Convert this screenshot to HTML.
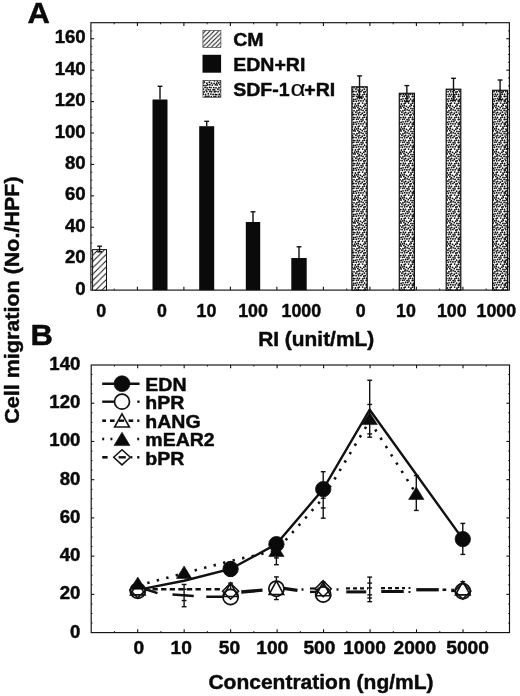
<!DOCTYPE html>
<html lang="en"><head><meta charset="utf-8"><title>Cell migration figure</title>
<style>html,body{margin:0;padding:0;background:#fff}svg{display:block}</style></head>
<body><svg width="520" height="696" viewBox="0 0 520 696"><defs>
<pattern id="stip" width="23.0" height="23.0" patternUnits="userSpaceOnUse"><rect width="23.0" height="23.0" fill="#fff"/><g fill="#111"><circle cx="22.79" cy="22.58" r="0.92"/><circle cx="22.79" cy="-0.42" r="0.92"/><circle cx="-0.21" cy="22.58" r="0.92"/><circle cx="-0.21" cy="-0.42" r="0.92"/><circle cx="1.33" cy="1.79" r="0.92"/><circle cx="24.33" cy="1.79" r="0.92"/><circle cx="0.04" cy="4.44" r="0.92"/><circle cx="23.04" cy="4.44" r="0.92"/><circle cx="0.62" cy="6.91" r="0.92"/><circle cx="23.62" cy="6.91" r="0.92"/><circle cx="22.44" cy="9.12" r="0.92"/><circle cx="-0.56" cy="9.12" r="0.92"/><circle cx="0.63" cy="11.01" r="0.92"/><circle cx="23.63" cy="11.01" r="0.92"/><circle cx="22.91" cy="14.19" r="0.92"/><circle cx="-0.09" cy="14.19" r="0.92"/><circle cx="0.70" cy="15.77" r="0.92"/><circle cx="23.70" cy="15.77" r="0.92"/><circle cx="0.15" cy="18.94" r="0.92"/><circle cx="23.15" cy="18.94" r="0.92"/><circle cx="1.24" cy="20.58" r="0.92"/><circle cx="24.24" cy="20.58" r="0.92"/><circle cx="2.87" cy="22.46" r="0.92"/><circle cx="2.87" cy="-0.54" r="0.92"/><circle cx="3.88" cy="2.05" r="0.92"/><circle cx="1.87" cy="4.14" r="0.92"/><circle cx="3.22" cy="7.28" r="0.92"/><circle cx="1.92" cy="9.30" r="0.92"/><circle cx="3.62" cy="11.35" r="0.92"/><circle cx="2.36" cy="13.28" r="0.92"/><circle cx="2.92" cy="15.75" r="0.92"/><circle cx="2.52" cy="18.31" r="0.92"/><circle cx="3.23" cy="20.80" r="0.92"/><circle cx="4.54" cy="22.76" r="0.92"/><circle cx="4.54" cy="-0.24" r="0.92"/><circle cx="6.10" cy="2.54" r="0.92"/><circle cx="4.29" cy="4.69" r="0.92"/><circle cx="5.78" cy="7.35" r="0.92"/><circle cx="4.88" cy="8.95" r="0.92"/><circle cx="6.33" cy="11.04" r="0.92"/><circle cx="4.50" cy="14.11" r="0.92"/><circle cx="5.33" cy="16.09" r="0.92"/><circle cx="4.05" cy="18.60" r="0.92"/><circle cx="6.07" cy="20.79" r="0.92"/><circle cx="7.35" cy="22.78" r="0.92"/><circle cx="7.35" cy="-0.22" r="0.92"/><circle cx="8.28" cy="2.41" r="0.92"/><circle cx="7.00" cy="4.55" r="0.92"/><circle cx="8.46" cy="7.43" r="0.92"/><circle cx="6.87" cy="9.40" r="0.92"/><circle cx="7.52" cy="11.74" r="0.92"/><circle cx="7.08" cy="14.39" r="0.92"/><circle cx="8.44" cy="15.84" r="0.92"/><circle cx="6.76" cy="18.60" r="0.92"/><circle cx="7.48" cy="20.65" r="0.92"/><circle cx="8.80" cy="22.54" r="0.92"/><circle cx="8.80" cy="-0.46" r="0.92"/><circle cx="9.82" cy="2.62" r="0.92"/><circle cx="8.76" cy="4.30" r="0.92"/><circle cx="10.22" cy="7.35" r="0.92"/><circle cx="8.70" cy="9.14" r="0.92"/><circle cx="10.41" cy="11.96" r="0.92"/><circle cx="9.58" cy="14.24" r="0.92"/><circle cx="10.08" cy="16.00" r="0.92"/><circle cx="9.03" cy="18.86" r="0.92"/><circle cx="10.90" cy="20.28" r="0.92"/><circle cx="11.11" cy="22.68" r="0.92"/><circle cx="11.11" cy="-0.32" r="0.92"/><circle cx="12.33" cy="2.28" r="0.92"/><circle cx="11.61" cy="4.32" r="0.92"/><circle cx="12.05" cy="6.80" r="0.92"/><circle cx="11.34" cy="9.28" r="0.92"/><circle cx="13.19" cy="11.73" r="0.92"/><circle cx="11.52" cy="13.94" r="0.92"/><circle cx="12.86" cy="15.56" r="0.92"/><circle cx="11.98" cy="18.74" r="0.92"/><circle cx="13.10" cy="21.06" r="0.92"/><circle cx="13.67" cy="22.88" r="0.92"/><circle cx="13.67" cy="-0.12" r="0.92"/><circle cx="14.47" cy="2.46" r="0.92"/><circle cx="13.27" cy="4.08" r="0.92"/><circle cx="14.60" cy="6.49" r="0.92"/><circle cx="13.61" cy="8.66" r="0.92"/><circle cx="14.35" cy="11.08" r="0.92"/><circle cx="13.32" cy="13.64" r="0.92"/><circle cx="14.38" cy="16.55" r="0.92"/><circle cx="13.94" cy="17.98" r="0.92"/><circle cx="14.65" cy="20.52" r="0.92"/><circle cx="15.94" cy="22.55" r="0.92"/><circle cx="15.94" cy="-0.45" r="0.92"/><circle cx="17.67" cy="2.89" r="0.92"/><circle cx="16.06" cy="4.58" r="0.92"/><circle cx="16.75" cy="6.42" r="0.92"/><circle cx="15.91" cy="8.92" r="0.92"/><circle cx="17.64" cy="11.09" r="0.92"/><circle cx="15.53" cy="14.34" r="0.92"/><circle cx="17.28" cy="15.68" r="0.92"/><circle cx="16.15" cy="17.83" r="0.92"/><circle cx="17.28" cy="21.27" r="0.92"/><circle cx="18.84" cy="0.24" r="0.92"/><circle cx="18.84" cy="23.24" r="0.92"/><circle cx="19.26" cy="2.14" r="0.92"/><circle cx="18.00" cy="4.93" r="0.92"/><circle cx="19.59" cy="7.23" r="0.92"/><circle cx="18.20" cy="8.87" r="0.92"/><circle cx="19.92" cy="12.08" r="0.92"/><circle cx="18.82" cy="14.17" r="0.92"/><circle cx="19.93" cy="16.39" r="0.92"/><circle cx="18.07" cy="18.42" r="0.92"/><circle cx="19.38" cy="20.13" r="0.92"/><circle cx="20.13" cy="22.74" r="0.92"/><circle cx="20.13" cy="-0.26" r="0.92"/><circle cx="21.56" cy="2.53" r="0.92"/><circle cx="-1.44" cy="2.53" r="0.92"/><circle cx="21.25" cy="4.54" r="0.92"/><circle cx="22.37" cy="7.49" r="0.92"/><circle cx="-0.63" cy="7.49" r="0.92"/><circle cx="21.25" cy="9.04" r="0.92"/><circle cx="21.51" cy="11.17" r="0.92"/><circle cx="-1.49" cy="11.17" r="0.92"/><circle cx="20.34" cy="13.45" r="0.92"/><circle cx="22.00" cy="16.58" r="0.92"/><circle cx="-1.00" cy="16.58" r="0.92"/><circle cx="21.11" cy="18.38" r="0.92"/><circle cx="22.03" cy="21.06" r="0.92"/><circle cx="-0.97" cy="21.06" r="0.92"/></g></pattern>
<pattern id="hatch" width="6.3" height="6.3" patternUnits="userSpaceOnUse" patternTransform="translate(1.5 0)"><rect width="6.3" height="6.3" fill="#fff"/><path d="M-1.575 1.575L1.575 -1.575M-1.575 7.875L7.875 -1.575M4.725 7.875L7.875 4.725" stroke="#111" stroke-width="1.0" fill="none"/></pattern>
<pattern id="hatch2" width="4.45" height="4.45" patternUnits="userSpaceOnUse" patternTransform="translate(0.5 0)"><rect width="4.45" height="4.45" fill="#fff"/><path d="M-1.1125 1.1125L1.1125 -1.1125M-1.1125 5.5625L5.5625 -1.1125M3.3375000000000004 5.5625L5.5625 3.3375000000000004" stroke="#111" stroke-width="0.95" fill="none"/></pattern>
</defs>
<g stroke="#111" fill="none" stroke-linecap="butt">
<rect x="90.9" y="22.7" width="418.5" height="267.40000000000003" stroke-width="1.15"/>
<line x1="137.40" y1="290.10" x2="137.40" y2="286.80" stroke-width="1.1" />
<line x1="137.40" y1="22.70" x2="137.40" y2="26.00" stroke-width="1.1" />
<line x1="183.90" y1="290.10" x2="183.90" y2="286.80" stroke-width="1.1" />
<line x1="183.90" y1="22.70" x2="183.90" y2="26.00" stroke-width="1.1" />
<line x1="230.40" y1="290.10" x2="230.40" y2="286.80" stroke-width="1.1" />
<line x1="230.40" y1="22.70" x2="230.40" y2="26.00" stroke-width="1.1" />
<line x1="276.90" y1="290.10" x2="276.90" y2="286.80" stroke-width="1.1" />
<line x1="276.90" y1="22.70" x2="276.90" y2="26.00" stroke-width="1.1" />
<line x1="323.40" y1="290.10" x2="323.40" y2="286.80" stroke-width="1.1" />
<line x1="323.40" y1="22.70" x2="323.40" y2="26.00" stroke-width="1.1" />
<line x1="369.90" y1="290.10" x2="369.90" y2="286.80" stroke-width="1.1" />
<line x1="369.90" y1="22.70" x2="369.90" y2="26.00" stroke-width="1.1" />
<line x1="416.40" y1="290.10" x2="416.40" y2="286.80" stroke-width="1.1" />
<line x1="416.40" y1="22.70" x2="416.40" y2="26.00" stroke-width="1.1" />
<line x1="462.90" y1="290.10" x2="462.90" y2="286.80" stroke-width="1.1" />
<line x1="462.90" y1="22.70" x2="462.90" y2="26.00" stroke-width="1.1" />
<line x1="114.15" y1="290.10" x2="114.15" y2="288.50" stroke-width="0.9" />
<line x1="114.15" y1="22.70" x2="114.15" y2="24.30" stroke-width="0.9" />
<line x1="160.65" y1="290.10" x2="160.65" y2="288.50" stroke-width="0.9" />
<line x1="160.65" y1="22.70" x2="160.65" y2="24.30" stroke-width="0.9" />
<line x1="207.15" y1="290.10" x2="207.15" y2="288.50" stroke-width="0.9" />
<line x1="207.15" y1="22.70" x2="207.15" y2="24.30" stroke-width="0.9" />
<line x1="253.65" y1="290.10" x2="253.65" y2="288.50" stroke-width="0.9" />
<line x1="253.65" y1="22.70" x2="253.65" y2="24.30" stroke-width="0.9" />
<line x1="300.15" y1="290.10" x2="300.15" y2="288.50" stroke-width="0.9" />
<line x1="300.15" y1="22.70" x2="300.15" y2="24.30" stroke-width="0.9" />
<line x1="346.65" y1="290.10" x2="346.65" y2="288.50" stroke-width="0.9" />
<line x1="346.65" y1="22.70" x2="346.65" y2="24.30" stroke-width="0.9" />
<line x1="393.15" y1="290.10" x2="393.15" y2="288.50" stroke-width="0.9" />
<line x1="393.15" y1="22.70" x2="393.15" y2="24.30" stroke-width="0.9" />
<line x1="439.65" y1="290.10" x2="439.65" y2="288.50" stroke-width="0.9" />
<line x1="439.65" y1="22.70" x2="439.65" y2="24.30" stroke-width="0.9" />
<line x1="486.15" y1="290.10" x2="486.15" y2="288.50" stroke-width="0.9" />
<line x1="486.15" y1="22.70" x2="486.15" y2="24.30" stroke-width="0.9" />
<line x1="90.90" y1="282.25" x2="92.30" y2="282.25" stroke-width="0.8" />
<line x1="509.40" y1="282.25" x2="508.00" y2="282.25" stroke-width="0.8" />
<line x1="90.90" y1="274.39" x2="92.30" y2="274.39" stroke-width="0.8" />
<line x1="509.40" y1="274.39" x2="508.00" y2="274.39" stroke-width="0.8" />
<line x1="90.90" y1="266.54" x2="92.30" y2="266.54" stroke-width="0.8" />
<line x1="509.40" y1="266.54" x2="508.00" y2="266.54" stroke-width="0.8" />
<line x1="90.90" y1="258.68" x2="94.00" y2="258.68" stroke-width="1.1" />
<line x1="509.40" y1="258.68" x2="506.30" y2="258.68" stroke-width="1.1" />
<line x1="90.90" y1="250.83" x2="92.30" y2="250.83" stroke-width="0.8" />
<line x1="509.40" y1="250.83" x2="508.00" y2="250.83" stroke-width="0.8" />
<line x1="90.90" y1="242.97" x2="92.30" y2="242.97" stroke-width="0.8" />
<line x1="509.40" y1="242.97" x2="508.00" y2="242.97" stroke-width="0.8" />
<line x1="90.90" y1="235.12" x2="92.30" y2="235.12" stroke-width="0.8" />
<line x1="509.40" y1="235.12" x2="508.00" y2="235.12" stroke-width="0.8" />
<line x1="90.90" y1="227.26" x2="94.00" y2="227.26" stroke-width="1.1" />
<line x1="509.40" y1="227.26" x2="506.30" y2="227.26" stroke-width="1.1" />
<line x1="90.90" y1="219.41" x2="92.30" y2="219.41" stroke-width="0.8" />
<line x1="509.40" y1="219.41" x2="508.00" y2="219.41" stroke-width="0.8" />
<line x1="90.90" y1="211.55" x2="92.30" y2="211.55" stroke-width="0.8" />
<line x1="509.40" y1="211.55" x2="508.00" y2="211.55" stroke-width="0.8" />
<line x1="90.90" y1="203.70" x2="92.30" y2="203.70" stroke-width="0.8" />
<line x1="509.40" y1="203.70" x2="508.00" y2="203.70" stroke-width="0.8" />
<line x1="90.90" y1="195.84" x2="94.00" y2="195.84" stroke-width="1.1" />
<line x1="509.40" y1="195.84" x2="506.30" y2="195.84" stroke-width="1.1" />
<line x1="90.90" y1="187.99" x2="92.30" y2="187.99" stroke-width="0.8" />
<line x1="509.40" y1="187.99" x2="508.00" y2="187.99" stroke-width="0.8" />
<line x1="90.90" y1="180.13" x2="92.30" y2="180.13" stroke-width="0.8" />
<line x1="509.40" y1="180.13" x2="508.00" y2="180.13" stroke-width="0.8" />
<line x1="90.90" y1="172.28" x2="92.30" y2="172.28" stroke-width="0.8" />
<line x1="509.40" y1="172.28" x2="508.00" y2="172.28" stroke-width="0.8" />
<line x1="90.90" y1="164.43" x2="94.00" y2="164.43" stroke-width="1.1" />
<line x1="509.40" y1="164.43" x2="506.30" y2="164.43" stroke-width="1.1" />
<line x1="90.90" y1="156.57" x2="92.30" y2="156.57" stroke-width="0.8" />
<line x1="509.40" y1="156.57" x2="508.00" y2="156.57" stroke-width="0.8" />
<line x1="90.90" y1="148.72" x2="92.30" y2="148.72" stroke-width="0.8" />
<line x1="509.40" y1="148.72" x2="508.00" y2="148.72" stroke-width="0.8" />
<line x1="90.90" y1="140.86" x2="92.30" y2="140.86" stroke-width="0.8" />
<line x1="509.40" y1="140.86" x2="508.00" y2="140.86" stroke-width="0.8" />
<line x1="90.90" y1="133.01" x2="94.00" y2="133.01" stroke-width="1.1" />
<line x1="509.40" y1="133.01" x2="506.30" y2="133.01" stroke-width="1.1" />
<line x1="90.90" y1="125.15" x2="92.30" y2="125.15" stroke-width="0.8" />
<line x1="509.40" y1="125.15" x2="508.00" y2="125.15" stroke-width="0.8" />
<line x1="90.90" y1="117.30" x2="92.30" y2="117.30" stroke-width="0.8" />
<line x1="509.40" y1="117.30" x2="508.00" y2="117.30" stroke-width="0.8" />
<line x1="90.90" y1="109.44" x2="92.30" y2="109.44" stroke-width="0.8" />
<line x1="509.40" y1="109.44" x2="508.00" y2="109.44" stroke-width="0.8" />
<line x1="90.90" y1="101.59" x2="94.00" y2="101.59" stroke-width="1.1" />
<line x1="509.40" y1="101.59" x2="506.30" y2="101.59" stroke-width="1.1" />
<line x1="90.90" y1="93.73" x2="92.30" y2="93.73" stroke-width="0.8" />
<line x1="509.40" y1="93.73" x2="508.00" y2="93.73" stroke-width="0.8" />
<line x1="90.90" y1="85.88" x2="92.30" y2="85.88" stroke-width="0.8" />
<line x1="509.40" y1="85.88" x2="508.00" y2="85.88" stroke-width="0.8" />
<line x1="90.90" y1="78.02" x2="92.30" y2="78.02" stroke-width="0.8" />
<line x1="509.40" y1="78.02" x2="508.00" y2="78.02" stroke-width="0.8" />
<line x1="90.90" y1="70.17" x2="94.00" y2="70.17" stroke-width="1.1" />
<line x1="509.40" y1="70.17" x2="506.30" y2="70.17" stroke-width="1.1" />
<line x1="90.90" y1="62.31" x2="92.30" y2="62.31" stroke-width="0.8" />
<line x1="509.40" y1="62.31" x2="508.00" y2="62.31" stroke-width="0.8" />
<line x1="90.90" y1="54.46" x2="92.30" y2="54.46" stroke-width="0.8" />
<line x1="509.40" y1="54.46" x2="508.00" y2="54.46" stroke-width="0.8" />
<line x1="90.90" y1="46.60" x2="92.30" y2="46.60" stroke-width="0.8" />
<line x1="509.40" y1="46.60" x2="508.00" y2="46.60" stroke-width="0.8" />
<line x1="90.90" y1="38.75" x2="94.00" y2="38.75" stroke-width="1.1" />
<line x1="509.40" y1="38.75" x2="506.30" y2="38.75" stroke-width="1.1" />
<line x1="90.90" y1="30.90" x2="92.30" y2="30.90" stroke-width="0.8" />
<line x1="509.40" y1="30.90" x2="508.00" y2="30.90" stroke-width="0.8" />
<rect x="92.6" y="249.6" width="13.9" height="40.50000000000003" fill="url(#hatch)" stroke-width="1.0"/>
<line x1="99.60" y1="246.20" x2="99.60" y2="251.80" stroke-width="1.4" />
<line x1="97.20" y1="246.20" x2="102.00" y2="246.20" stroke-width="1.4" />
<line x1="97.20" y1="251.80" x2="102.00" y2="251.80" stroke-width="1.4" />
<rect x="152.5" y="99.5" width="15.0" height="190.60000000000002" fill="#0a0a0a" stroke="none"/>
<line x1="160.00" y1="86.30" x2="160.00" y2="99.50" stroke-width="1.4" />
<line x1="157.60" y1="86.30" x2="162.40" y2="86.30" stroke-width="1.4" />
<rect x="199.2" y="126.2" width="15.0" height="163.90000000000003" fill="#0a0a0a" stroke="none"/>
<line x1="206.70" y1="121.30" x2="206.70" y2="126.20" stroke-width="1.4" />
<line x1="204.30" y1="121.30" x2="209.10" y2="121.30" stroke-width="1.4" />
<rect x="245.8" y="222" width="14.399999999999977" height="68.10000000000002" fill="#0a0a0a" stroke="none"/>
<line x1="253.00" y1="211.80" x2="253.00" y2="222.00" stroke-width="1.4" />
<line x1="250.60" y1="211.80" x2="255.40" y2="211.80" stroke-width="1.4" />
<rect x="291.3" y="258" width="15.399999999999977" height="32.10000000000002" fill="#0a0a0a" stroke="none"/>
<line x1="299.00" y1="246.80" x2="299.00" y2="258.00" stroke-width="1.4" />
<line x1="296.60" y1="246.80" x2="301.40" y2="246.80" stroke-width="1.4" />
<rect x="351.9" y="86.8" width="15.300000000000011" height="203.3" fill="url(#stip)" stroke-width="1.2"/>
<line x1="359.55" y1="75.90" x2="359.55" y2="97.40" stroke-width="1.4" />
<line x1="357.15" y1="75.90" x2="361.95" y2="75.90" stroke-width="1.4" />
<line x1="357.15" y1="97.40" x2="361.95" y2="97.40" stroke-width="1.4" />
<rect x="399.3" y="93.3" width="15.099999999999966" height="196.8" fill="url(#stip)" stroke-width="1.2"/>
<line x1="406.85" y1="85.60" x2="406.85" y2="101.60" stroke-width="1.4" />
<line x1="404.45" y1="85.60" x2="409.25" y2="85.60" stroke-width="1.4" />
<line x1="404.45" y1="101.60" x2="409.25" y2="101.60" stroke-width="1.4" />
<rect x="446.2" y="89.2" width="14.600000000000023" height="200.90000000000003" fill="url(#stip)" stroke-width="1.2"/>
<line x1="453.50" y1="78.30" x2="453.50" y2="100.20" stroke-width="1.4" />
<line x1="451.10" y1="78.30" x2="455.90" y2="78.30" stroke-width="1.4" />
<line x1="451.10" y1="100.20" x2="455.90" y2="100.20" stroke-width="1.4" />
<rect x="492.6" y="90.3" width="15.0" height="199.8" fill="url(#stip)" stroke-width="1.2"/>
<line x1="500.10" y1="80.00" x2="500.10" y2="99.50" stroke-width="1.4" />
<line x1="497.70" y1="80.00" x2="502.50" y2="80.00" stroke-width="1.4" />
<line x1="497.70" y1="99.50" x2="502.50" y2="99.50" stroke-width="1.4" />
<rect x="202.9" y="30.4" width="18" height="17" fill="url(#hatch2)" stroke-width="0.7" stroke="#444"/>
<rect x="202.5" y="54.8" width="18.6" height="17.9" fill="#0a0a0a" stroke="none"/>
<rect x="202.9" y="80.4" width="18" height="17" fill="url(#stip)" stroke-width="0.7" stroke="#444"/>
<rect x="91.2" y="365.0" width="418.3" height="267.6" stroke-width="1.15"/>
<line x1="137.68" y1="632.60" x2="137.68" y2="629.30" stroke-width="1.1" />
<line x1="137.68" y1="365.00" x2="137.68" y2="368.30" stroke-width="1.1" />
<line x1="184.16" y1="632.60" x2="184.16" y2="629.30" stroke-width="1.1" />
<line x1="184.16" y1="365.00" x2="184.16" y2="368.30" stroke-width="1.1" />
<line x1="230.63" y1="632.60" x2="230.63" y2="629.30" stroke-width="1.1" />
<line x1="230.63" y1="365.00" x2="230.63" y2="368.30" stroke-width="1.1" />
<line x1="277.11" y1="632.60" x2="277.11" y2="629.30" stroke-width="1.1" />
<line x1="277.11" y1="365.00" x2="277.11" y2="368.30" stroke-width="1.1" />
<line x1="323.59" y1="632.60" x2="323.59" y2="629.30" stroke-width="1.1" />
<line x1="323.59" y1="365.00" x2="323.59" y2="368.30" stroke-width="1.1" />
<line x1="370.07" y1="632.60" x2="370.07" y2="629.30" stroke-width="1.1" />
<line x1="370.07" y1="365.00" x2="370.07" y2="368.30" stroke-width="1.1" />
<line x1="416.54" y1="632.60" x2="416.54" y2="629.30" stroke-width="1.1" />
<line x1="416.54" y1="365.00" x2="416.54" y2="368.30" stroke-width="1.1" />
<line x1="463.02" y1="632.60" x2="463.02" y2="629.30" stroke-width="1.1" />
<line x1="463.02" y1="365.00" x2="463.02" y2="368.30" stroke-width="1.1" />
<line x1="114.44" y1="632.60" x2="114.44" y2="631.00" stroke-width="0.9" />
<line x1="114.44" y1="365.00" x2="114.44" y2="366.60" stroke-width="0.9" />
<line x1="160.92" y1="632.60" x2="160.92" y2="631.00" stroke-width="0.9" />
<line x1="160.92" y1="365.00" x2="160.92" y2="366.60" stroke-width="0.9" />
<line x1="207.39" y1="632.60" x2="207.39" y2="631.00" stroke-width="0.9" />
<line x1="207.39" y1="365.00" x2="207.39" y2="366.60" stroke-width="0.9" />
<line x1="253.87" y1="632.60" x2="253.87" y2="631.00" stroke-width="0.9" />
<line x1="253.87" y1="365.00" x2="253.87" y2="366.60" stroke-width="0.9" />
<line x1="300.35" y1="632.60" x2="300.35" y2="631.00" stroke-width="0.9" />
<line x1="300.35" y1="365.00" x2="300.35" y2="366.60" stroke-width="0.9" />
<line x1="346.83" y1="632.60" x2="346.83" y2="631.00" stroke-width="0.9" />
<line x1="346.83" y1="365.00" x2="346.83" y2="366.60" stroke-width="0.9" />
<line x1="393.31" y1="632.60" x2="393.31" y2="631.00" stroke-width="0.9" />
<line x1="393.31" y1="365.00" x2="393.31" y2="366.60" stroke-width="0.9" />
<line x1="439.78" y1="632.60" x2="439.78" y2="631.00" stroke-width="0.9" />
<line x1="439.78" y1="365.00" x2="439.78" y2="366.60" stroke-width="0.9" />
<line x1="486.26" y1="632.60" x2="486.26" y2="631.00" stroke-width="0.9" />
<line x1="486.26" y1="365.00" x2="486.26" y2="366.60" stroke-width="0.9" />
<line x1="91.20" y1="623.04" x2="92.60" y2="623.04" stroke-width="0.8" />
<line x1="509.50" y1="623.04" x2="508.10" y2="623.04" stroke-width="0.8" />
<line x1="91.20" y1="613.49" x2="92.60" y2="613.49" stroke-width="0.8" />
<line x1="509.50" y1="613.49" x2="508.10" y2="613.49" stroke-width="0.8" />
<line x1="91.20" y1="603.93" x2="92.60" y2="603.93" stroke-width="0.8" />
<line x1="509.50" y1="603.93" x2="508.10" y2="603.93" stroke-width="0.8" />
<line x1="91.20" y1="594.37" x2="94.30" y2="594.37" stroke-width="1.1" />
<line x1="509.50" y1="594.37" x2="506.40" y2="594.37" stroke-width="1.1" />
<line x1="91.20" y1="584.81" x2="92.60" y2="584.81" stroke-width="0.8" />
<line x1="509.50" y1="584.81" x2="508.10" y2="584.81" stroke-width="0.8" />
<line x1="91.20" y1="575.26" x2="92.60" y2="575.26" stroke-width="0.8" />
<line x1="509.50" y1="575.26" x2="508.10" y2="575.26" stroke-width="0.8" />
<line x1="91.20" y1="565.70" x2="92.60" y2="565.70" stroke-width="0.8" />
<line x1="509.50" y1="565.70" x2="508.10" y2="565.70" stroke-width="0.8" />
<line x1="91.20" y1="556.14" x2="94.30" y2="556.14" stroke-width="1.1" />
<line x1="509.50" y1="556.14" x2="506.40" y2="556.14" stroke-width="1.1" />
<line x1="91.20" y1="546.59" x2="92.60" y2="546.59" stroke-width="0.8" />
<line x1="509.50" y1="546.59" x2="508.10" y2="546.59" stroke-width="0.8" />
<line x1="91.20" y1="537.03" x2="92.60" y2="537.03" stroke-width="0.8" />
<line x1="509.50" y1="537.03" x2="508.10" y2="537.03" stroke-width="0.8" />
<line x1="91.20" y1="527.47" x2="92.60" y2="527.47" stroke-width="0.8" />
<line x1="509.50" y1="527.47" x2="508.10" y2="527.47" stroke-width="0.8" />
<line x1="91.20" y1="517.91" x2="94.30" y2="517.91" stroke-width="1.1" />
<line x1="509.50" y1="517.91" x2="506.40" y2="517.91" stroke-width="1.1" />
<line x1="91.20" y1="508.36" x2="92.60" y2="508.36" stroke-width="0.8" />
<line x1="509.50" y1="508.36" x2="508.10" y2="508.36" stroke-width="0.8" />
<line x1="91.20" y1="498.80" x2="92.60" y2="498.80" stroke-width="0.8" />
<line x1="509.50" y1="498.80" x2="508.10" y2="498.80" stroke-width="0.8" />
<line x1="91.20" y1="489.24" x2="92.60" y2="489.24" stroke-width="0.8" />
<line x1="509.50" y1="489.24" x2="508.10" y2="489.24" stroke-width="0.8" />
<line x1="91.20" y1="479.69" x2="94.30" y2="479.69" stroke-width="1.1" />
<line x1="509.50" y1="479.69" x2="506.40" y2="479.69" stroke-width="1.1" />
<line x1="91.20" y1="470.13" x2="92.60" y2="470.13" stroke-width="0.8" />
<line x1="509.50" y1="470.13" x2="508.10" y2="470.13" stroke-width="0.8" />
<line x1="91.20" y1="460.57" x2="92.60" y2="460.57" stroke-width="0.8" />
<line x1="509.50" y1="460.57" x2="508.10" y2="460.57" stroke-width="0.8" />
<line x1="91.20" y1="451.01" x2="92.60" y2="451.01" stroke-width="0.8" />
<line x1="509.50" y1="451.01" x2="508.10" y2="451.01" stroke-width="0.8" />
<line x1="91.20" y1="441.46" x2="94.30" y2="441.46" stroke-width="1.1" />
<line x1="509.50" y1="441.46" x2="506.40" y2="441.46" stroke-width="1.1" />
<line x1="91.20" y1="431.90" x2="92.60" y2="431.90" stroke-width="0.8" />
<line x1="509.50" y1="431.90" x2="508.10" y2="431.90" stroke-width="0.8" />
<line x1="91.20" y1="422.34" x2="92.60" y2="422.34" stroke-width="0.8" />
<line x1="509.50" y1="422.34" x2="508.10" y2="422.34" stroke-width="0.8" />
<line x1="91.20" y1="412.79" x2="92.60" y2="412.79" stroke-width="0.8" />
<line x1="509.50" y1="412.79" x2="508.10" y2="412.79" stroke-width="0.8" />
<line x1="91.20" y1="403.23" x2="94.30" y2="403.23" stroke-width="1.1" />
<line x1="509.50" y1="403.23" x2="506.40" y2="403.23" stroke-width="1.1" />
<line x1="91.20" y1="393.67" x2="92.60" y2="393.67" stroke-width="0.8" />
<line x1="509.50" y1="393.67" x2="508.10" y2="393.67" stroke-width="0.8" />
<line x1="91.20" y1="384.11" x2="92.60" y2="384.11" stroke-width="0.8" />
<line x1="509.50" y1="384.11" x2="508.10" y2="384.11" stroke-width="0.8" />
<line x1="91.20" y1="374.56" x2="92.60" y2="374.56" stroke-width="0.8" />
<line x1="509.50" y1="374.56" x2="508.10" y2="374.56" stroke-width="0.8" />
<line x1="184.10" y1="584.45" x2="184.10" y2="606.73" stroke-width="1.4" />
<line x1="181.70" y1="584.45" x2="186.50" y2="584.45" stroke-width="1.4" />
<line x1="181.70" y1="606.73" x2="186.50" y2="606.73" stroke-width="1.4" />
<line x1="181.70" y1="589.29" x2="186.50" y2="589.29" stroke-width="1.4" />
<line x1="181.70" y1="595.11" x2="186.50" y2="595.11" stroke-width="1.4" />
<line x1="181.70" y1="600.53" x2="186.50" y2="600.53" stroke-width="1.4" />
<line x1="230.60" y1="561.78" x2="230.60" y2="576.31" stroke-width="1.4" />
<line x1="228.20" y1="561.78" x2="233.00" y2="561.78" stroke-width="1.4" />
<line x1="228.20" y1="576.31" x2="233.00" y2="576.31" stroke-width="1.4" />
<line x1="276.40" y1="539.50" x2="276.40" y2="564.69" stroke-width="1.4" />
<line x1="274.00" y1="539.50" x2="278.80" y2="539.50" stroke-width="1.4" />
<line x1="274.00" y1="564.69" x2="278.80" y2="564.69" stroke-width="1.4" />
<line x1="274.00" y1="557.91" x2="278.80" y2="557.91" stroke-width="1.4" />
<line x1="323.20" y1="471.69" x2="323.20" y2="518.19" stroke-width="1.4" />
<line x1="320.80" y1="471.69" x2="325.60" y2="471.69" stroke-width="1.4" />
<line x1="320.80" y1="518.19" x2="325.60" y2="518.19" stroke-width="1.4" />
<line x1="320.80" y1="507.92" x2="325.60" y2="507.92" stroke-width="1.4" />
<line x1="320.80" y1="498.23" x2="325.60" y2="498.23" stroke-width="1.4" />
<line x1="369.70" y1="380.24" x2="369.70" y2="437.20" stroke-width="1.4" />
<line x1="367.30" y1="380.24" x2="372.10" y2="380.24" stroke-width="1.4" />
<line x1="367.30" y1="437.20" x2="372.10" y2="437.20" stroke-width="1.4" />
<line x1="367.30" y1="404.46" x2="372.10" y2="404.46" stroke-width="1.4" />
<line x1="367.30" y1="433.91" x2="372.10" y2="433.91" stroke-width="1.4" />
<line x1="416.30" y1="475.56" x2="416.30" y2="510.44" stroke-width="1.4" />
<line x1="413.90" y1="475.56" x2="418.70" y2="475.56" stroke-width="1.4" />
<line x1="413.90" y1="510.44" x2="418.70" y2="510.44" stroke-width="1.4" />
<line x1="462.80" y1="523.42" x2="462.80" y2="554.42" stroke-width="1.4" />
<line x1="460.40" y1="523.42" x2="465.20" y2="523.42" stroke-width="1.4" />
<line x1="460.40" y1="554.42" x2="465.20" y2="554.42" stroke-width="1.4" />
<line x1="230.60" y1="583.09" x2="230.60" y2="604.41" stroke-width="1.4" />
<line x1="228.20" y1="583.09" x2="233.00" y2="583.09" stroke-width="1.4" />
<line x1="228.20" y1="604.41" x2="233.00" y2="604.41" stroke-width="1.4" />
<line x1="276.40" y1="576.89" x2="276.40" y2="599.56" stroke-width="1.4" />
<line x1="274.00" y1="576.89" x2="278.80" y2="576.89" stroke-width="1.4" />
<line x1="274.00" y1="599.56" x2="278.80" y2="599.56" stroke-width="1.4" />
<line x1="274.00" y1="582.12" x2="278.80" y2="582.12" stroke-width="1.4" />
<line x1="274.00" y1="595.69" x2="278.80" y2="595.69" stroke-width="1.4" />
<line x1="323.20" y1="582.12" x2="323.20" y2="601.50" stroke-width="1.4" />
<line x1="320.80" y1="582.12" x2="325.60" y2="582.12" stroke-width="1.4" />
<line x1="320.80" y1="601.50" x2="325.60" y2="601.50" stroke-width="1.4" />
<line x1="320.80" y1="586.00" x2="325.60" y2="586.00" stroke-width="1.4" />
<line x1="320.80" y1="597.62" x2="325.60" y2="597.62" stroke-width="1.4" />
<line x1="369.70" y1="577.09" x2="369.70" y2="601.69" stroke-width="1.4" />
<line x1="367.30" y1="577.09" x2="372.10" y2="577.09" stroke-width="1.4" />
<line x1="367.30" y1="601.69" x2="372.10" y2="601.69" stroke-width="1.4" />
<line x1="367.30" y1="583.09" x2="372.10" y2="583.09" stroke-width="1.4" />
<line x1="367.30" y1="587.94" x2="372.10" y2="587.94" stroke-width="1.4" />
<line x1="367.30" y1="594.91" x2="372.10" y2="594.91" stroke-width="1.4" />
<line x1="367.30" y1="598.01" x2="372.10" y2="598.01" stroke-width="1.4" />
<line x1="462.80" y1="581.74" x2="462.80" y2="589.88" stroke-width="1.4" />
<line x1="460.40" y1="581.74" x2="465.20" y2="581.74" stroke-width="1.4" />
<line x1="460.40" y1="589.88" x2="465.20" y2="589.88" stroke-width="1.4" />
<polyline points="137.80,585.61 184.10,573.21 230.60,561.01 276.40,550.54 323.20,498.04 369.70,420.92 416.30,493.97" stroke-width="2.6" stroke-dasharray="2.4 7.4"/>
<line x1="152.50" y1="589.25" x2="202.50" y2="589.25" stroke-width="2.4" stroke-dasharray="5.3 3.3"/>
<line x1="206.00" y1="589.25" x2="222.50" y2="589.25" stroke-width="2.4" stroke-dasharray="5.3 3.3"/>
<line x1="310.00" y1="588.50" x2="316.00" y2="588.50" stroke-width="2.2" />
<line x1="346.00" y1="588.30" x2="368.00" y2="588.30" stroke-width="2.2" stroke-dasharray="4 3"/>
<line x1="381.00" y1="588.10" x2="405.00" y2="588.10" stroke-width="2.2" stroke-dasharray="4 3"/>
<line x1="145.00" y1="589.00" x2="157.50" y2="593.20" stroke-width="2.4" />
<line x1="172.50" y1="594.60" x2="193.75" y2="596.00" stroke-width="2.5" />
<line x1="206.25" y1="596.75" x2="223.75" y2="596.75" stroke-width="2.5" />
<line x1="241.25" y1="592.00" x2="262.50" y2="590.20" stroke-width="3.3" />
<line x1="283.75" y1="588.40" x2="297.50" y2="590.40" stroke-width="3.3" />
<line x1="301.50" y1="589.50" x2="303.50" y2="589.50" stroke-width="2.4" />
<line x1="310.00" y1="591.90" x2="316.00" y2="591.90" stroke-width="2.4" />
<line x1="336.50" y1="589.50" x2="338.50" y2="589.50" stroke-width="2.4" />
<line x1="346.25" y1="591.90" x2="366.25" y2="591.90" stroke-width="3.0" />
<line x1="381.25" y1="591.50" x2="403.75" y2="591.50" stroke-width="3.0" />
<line x1="408.50" y1="588.00" x2="410.50" y2="588.00" stroke-width="2.0" />
<line x1="408.50" y1="592.00" x2="410.50" y2="592.00" stroke-width="2.0" />
<line x1="416.25" y1="589.75" x2="438.75" y2="589.75" stroke-width="3.3" />
<line x1="442.50" y1="589.75" x2="446.25" y2="589.75" stroke-width="2.6" />
<line x1="451.25" y1="590.40" x2="454.50" y2="590.40" stroke-width="3.4" />
<polyline points="137.80,589.88 184.10,580.77 230.60,568.95 276.40,544.15 323.20,489.12 369.70,409.69 462.80,539.11" stroke-width="2.4" stroke-linejoin="miter"/>
<circle cx="137.80" cy="590.84" r="7.6" fill="#fff" stroke-width="1.7"/>
<circle cx="230.60" cy="597.04" r="7.6" fill="#fff" stroke-width="1.7"/>
<circle cx="276.40" cy="588.71" r="7.6" fill="#fff" stroke-width="1.7"/>
<circle cx="323.20" cy="594.52" r="7.6" fill="#fff" stroke-width="1.7"/>
<circle cx="462.80" cy="591.23" r="7.6" fill="#fff" stroke-width="1.7"/>
<path d="M137.80 581.32L145.10 594.92L130.50 594.92Z" fill="none" stroke-width="1.6" stroke-linejoin="miter"/>
<path d="M230.60 582.87L237.90 596.47L223.30 596.47Z" fill="none" stroke-width="1.6" stroke-linejoin="miter"/>
<path d="M276.40 580.94L283.70 594.54L269.10 594.54Z" fill="none" stroke-width="1.6" stroke-linejoin="miter"/>
<path d="M323.20 582.10L330.50 595.70L315.90 595.70Z" fill="none" stroke-width="1.6" stroke-linejoin="miter"/>
<path d="M462.80 581.32L470.10 594.92L455.50 594.92Z" fill="none" stroke-width="1.6" stroke-linejoin="miter"/>
<path d="M137.80 581.88L145.80 589.88L137.80 597.88L129.80 589.88Z" fill="none" stroke-width="1.6"/>
<path d="M230.60 583.23L238.60 591.23L230.60 599.23L222.60 591.23Z" fill="none" stroke-width="1.6"/>
<path d="M323.20 580.71L331.20 588.71L323.20 596.71L315.20 588.71Z" fill="none" stroke-width="1.6"/>
<path d="M462.80 583.04L470.80 591.04L462.80 599.04L454.80 591.04Z" fill="none" stroke-width="1.6"/>
<path d="M137.80 577.10L145.50 589.30L130.10 589.30Z" fill="#0a0a0a" stroke-width="0.6" stroke-linejoin="miter"/>
<path d="M184.10 566.00L191.80 578.50L176.40 578.50Z" fill="#0a0a0a" stroke-width="0.6" stroke-linejoin="miter"/>
<path d="M276.40 544.00L284.10 556.50L268.70 556.50Z" fill="#0a0a0a" stroke-width="0.6" stroke-linejoin="miter"/>
<path d="M369.70 412.40L377.40 424.60L362.00 424.60Z" fill="#0a0a0a" stroke-width="0.6" stroke-linejoin="miter"/>
<path d="M416.30 486.90L424.00 499.50L408.60 499.50Z" fill="#0a0a0a" stroke-width="0.6" stroke-linejoin="miter"/>
<circle cx="230.60" cy="568.95" r="7.7" fill="#0a0a0a" stroke-width="0.8"/>
<circle cx="276.40" cy="544.15" r="7.7" fill="#0a0a0a" stroke-width="0.8"/>
<circle cx="323.20" cy="489.12" r="7.7" fill="#0a0a0a" stroke-width="0.8"/>
<circle cx="462.80" cy="539.11" r="7.7" fill="#0a0a0a" stroke-width="0.8"/>
<line x1="102.20" y1="383.70" x2="139.60" y2="383.70" stroke-width="2.6" />
<circle cx="122.00" cy="383.70" r="8.0" fill="#0a0a0a" stroke-width="0.6"/>
<line x1="102.20" y1="401.70" x2="122.00" y2="401.70" stroke-width="2.4" />
<line x1="137.30" y1="401.70" x2="139.60" y2="401.70" stroke-width="2.4" />
<circle cx="122.00" cy="401.70" r="7.5" fill="#fff" stroke-width="1.7"/>
<line x1="102.20" y1="420.70" x2="106.00" y2="420.70" stroke-width="2.6" />
<line x1="110.00" y1="420.70" x2="114.60" y2="420.70" stroke-width="2.6" />
<line x1="128.60" y1="420.70" x2="133.20" y2="420.70" stroke-width="2.6" />
<line x1="137.20" y1="420.70" x2="139.40" y2="420.70" stroke-width="2.6" />
<path d="M122.0 413.8L129.4 427.0L114.6 427.0Z" fill="#fff" stroke-width="1.6"/>
<line x1="119.00" y1="420.70" x2="124.20" y2="420.70" stroke-width="2.4" />
<line x1="102.20" y1="439.00" x2="104.20" y2="439.00" stroke-width="2.6" />
<line x1="110.40" y1="439.00" x2="112.40" y2="439.00" stroke-width="2.6" />
<line x1="137.20" y1="439.00" x2="139.20" y2="439.00" stroke-width="2.6" />
<path d="M122.0 432.2L130.0 445.6L114.0 445.6Z" fill="#0a0a0a" stroke-width="0.6"/>
<line x1="102.20" y1="457.30" x2="107.60" y2="457.30" stroke-width="2.6" />
<line x1="137.20" y1="457.30" x2="139.40" y2="457.30" stroke-width="2.6" />
<line x1="130.60" y1="457.30" x2="132.40" y2="457.30" stroke-width="2.4" />
<path d="M122.0 449.7L130.3 457.3L122.0 464.90000000000003L113.7 457.3Z" fill="#fff" stroke-width="1.5"/>
<line x1="118.60" y1="457.30" x2="125.80" y2="457.30" stroke-width="2.4" />
</g>
<g fill="#0a0a0a" stroke="#0a0a0a" stroke-width="0.45" stroke-linejoin="round" font-family="Liberation Sans, Arial, Helvetica, sans-serif" font-weight="bold">
<text transform="translate(27.50 23.40) scale(1.05 1)" font-size="29.5" text-anchor="start" >A</text>
<text transform="translate(30.50 345.40) scale(1.05 1)" font-size="29.5" text-anchor="start" >B</text>
<text transform="translate(85.70 294.70) scale(1.04 1)" font-size="17.9" text-anchor="end" >0</text>
<text transform="translate(85.70 263.28) scale(1.04 1)" font-size="17.9" text-anchor="end" >20</text>
<text transform="translate(85.70 231.86) scale(1.04 1)" font-size="17.9" text-anchor="end" >40</text>
<text transform="translate(85.70 200.44) scale(1.04 1)" font-size="17.9" text-anchor="end" >60</text>
<text transform="translate(85.70 169.03) scale(1.04 1)" font-size="17.9" text-anchor="end" >80</text>
<text transform="translate(85.70 137.61) scale(1.04 1)" font-size="17.9" text-anchor="end" >100</text>
<text transform="translate(85.70 106.19) scale(1.04 1)" font-size="17.9" text-anchor="end" >120</text>
<text transform="translate(85.70 74.77) scale(1.04 1)" font-size="17.9" text-anchor="end" >140</text>
<text transform="translate(85.70 43.35) scale(1.04 1)" font-size="17.9" text-anchor="end" >160</text>
<text transform="translate(80.40 637.60) scale(0.98 1)" font-size="19.0" text-anchor="end" >0</text>
<text transform="translate(80.40 599.37) scale(0.98 1)" font-size="19.0" text-anchor="end" >20</text>
<text transform="translate(80.40 561.14) scale(0.98 1)" font-size="19.0" text-anchor="end" >40</text>
<text transform="translate(80.40 522.91) scale(0.98 1)" font-size="19.0" text-anchor="end" >60</text>
<text transform="translate(80.40 484.69) scale(0.98 1)" font-size="19.0" text-anchor="end" >80</text>
<text transform="translate(80.40 446.46) scale(0.98 1)" font-size="19.0" text-anchor="end" >100</text>
<text transform="translate(80.40 408.23) scale(0.98 1)" font-size="19.0" text-anchor="end" >120</text>
<text transform="translate(80.40 370.00) scale(0.98 1)" font-size="19.0" text-anchor="end" >140</text>
<text transform="translate(101.30 316.80) scale(1.0 1)" font-size="17.8" text-anchor="middle" >0</text>
<text transform="translate(162.00 316.80) scale(1.0 1)" font-size="17.8" text-anchor="middle" >0</text>
<text transform="translate(206.40 316.80) scale(1.0 1)" font-size="17.8" text-anchor="middle" >10</text>
<text transform="translate(253.00 316.80) scale(1.0 1)" font-size="17.8" text-anchor="middle" >100</text>
<text transform="translate(301.30 316.80) scale(1.0 1)" font-size="17.8" text-anchor="middle" >1000</text>
<text transform="translate(360.80 316.80) scale(1.0 1)" font-size="17.8" text-anchor="middle" >0</text>
<text transform="translate(405.90 316.80) scale(1.0 1)" font-size="17.8" text-anchor="middle" >10</text>
<text transform="translate(451.80 316.80) scale(1.0 1)" font-size="17.8" text-anchor="middle" >100</text>
<text transform="translate(496.30 316.80) scale(1.0 1)" font-size="17.8" text-anchor="middle" >1000</text>
<text transform="translate(316.20 345.80) scale(1.035 1)" font-size="20.2" text-anchor="middle" >RI (unit/mL)</text>
<text transform="translate(138.80 654.10) scale(1.03 1)" font-size="18.6" text-anchor="middle" >0</text>
<text transform="translate(181.20 654.10) scale(1.03 1)" font-size="18.6" text-anchor="middle" >10</text>
<text transform="translate(229.40 654.10) scale(1.03 1)" font-size="18.6" text-anchor="middle" >50</text>
<text transform="translate(272.30 654.10) scale(1.03 1)" font-size="18.6" text-anchor="middle" >100</text>
<text transform="translate(319.40 654.10) scale(1.03 1)" font-size="18.6" text-anchor="middle" >500</text>
<text transform="translate(364.50 654.10) scale(1.03 1)" font-size="18.6" text-anchor="middle" >1000</text>
<text transform="translate(414.80 654.10) scale(1.03 1)" font-size="18.6" text-anchor="middle" >2000</text>
<text transform="translate(467.60 654.10) scale(1.03 1)" font-size="18.6" text-anchor="middle" >5000</text>
<text transform="translate(321.00 689.00) scale(1.02 1)" font-size="20.6" text-anchor="middle" >Concentration (ng/mL)</text>
<text transform="translate(233.20 46.20) scale(1.05 1)" font-size="18.6" text-anchor="start" >CM</text>
<text transform="translate(233.20 71.20) scale(1.05 1)" font-size="18.6" text-anchor="start" >EDN+RI</text>
<text transform="translate(233.20 96.40) scale(1.05 1)" font-size="18.6" text-anchor="start" >SDF-1</text>
<text transform="translate(290.4 96.4) scale(1.22 1)" font-size="21.5" font-weight="normal" stroke-width="0.15">α</text>
<text transform="translate(304.30 96.40) scale(1.05 1)" font-size="18.6" text-anchor="start" >+RI</text>
<text transform="translate(145.30 390.80) scale(1.05 1)" font-size="18.6" text-anchor="start" >EDN</text>
<text transform="translate(145.30 409.40) scale(1.05 1)" font-size="18.6" text-anchor="start" >hPR</text>
<text transform="translate(145.30 428.00) scale(1.05 1)" font-size="18.6" text-anchor="start" >hANG</text>
<text transform="translate(145.30 446.40) scale(1.05 1)" font-size="18.6" text-anchor="start" >mEAR2</text>
<text transform="translate(145.30 465.00) scale(1.05 1)" font-size="18.6" text-anchor="start" >bPR</text>
<text transform="translate(19.4 423.7) rotate(-90) scale(1.045 1)" font-size="20.6">Cell migration (No./HPF)</text>
</g></svg></body></html>
